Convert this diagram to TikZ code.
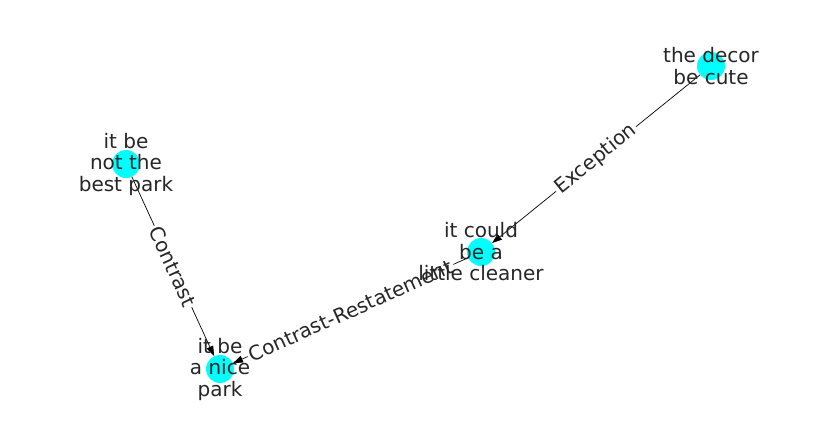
\documentclass[tikz,border=0pt]{standalone}
\usepackage{fontspec}
\setmainfont{DejaVu Sans}
\usetikzlibrary{arrows.meta}
\definecolor{nodecyan}{RGB}{0,255,255}
\definecolor{inkgray}{RGB}{38,38,38}
\tikzset{
  dot/.style={circle,fill=nodecyan,minimum size=28pt,inner sep=0pt},
  txt/.style={align=center,text=inkgray,font=\fontsize{20}{21.5}\selectfont},
  link/.style={line width=0.7pt,-{Triangle[length=10pt,width=7pt]}},
  elab/.style={sloped,midway,fill=white,text=inkgray,inner xsep=2pt,inner ysep=1pt,font=\fontsize{20}{21.5}\selectfont}
}
\begin{document}
\begin{tikzpicture}[x=1pt,y=-1pt]

\useasboundingbox (0,0) rectangle (837,434);

% positions
\coordinate (pdecor) at (711,66);
\coordinate (pbest) at (126,164);
\coordinate (pclean) at (481,252);
\coordinate (pnice) at (220,369);

% edge labels first, texts go on top
\path (pdecor) -- node[elab] (exc) {Exception} (pclean);
\path (pclean) -- node[elab] (crs) {Contrast-Restatement} (pnice);
\path (pbest) -- node[elab] (con) {Contrast} (pnice);

% nodes
\node[dot] (decor) at (pdecor) {};
\node[dot] (best) at (pbest) {};
\node[dot] (clean) at (pclean) {};
\node[dot] (nice) at (pnice) {};

% edges, cut round the labels
\begin{scope}[link]
\draw[-] (decor) -- (exc);
\draw (exc) -- (clean);
\draw[-] (clean) -- (crs);
\draw (crs) -- (nice);
\draw[-] (best) -- (con);
\draw (con) -- (nice);
\end{scope}

% node texts
\node[txt] (decortxt) at (decor) {the decor\\be cute};
\node[txt] (besttxt) at (best) {it be\\not the\\best park};
\node[txt] (cleantxt) at (clean) {it could\\be a\\little cleaner};
\node[txt] (nicetxt) at (nice) {it be\\a nice\\park};

\end{tikzpicture}
\end{document}
